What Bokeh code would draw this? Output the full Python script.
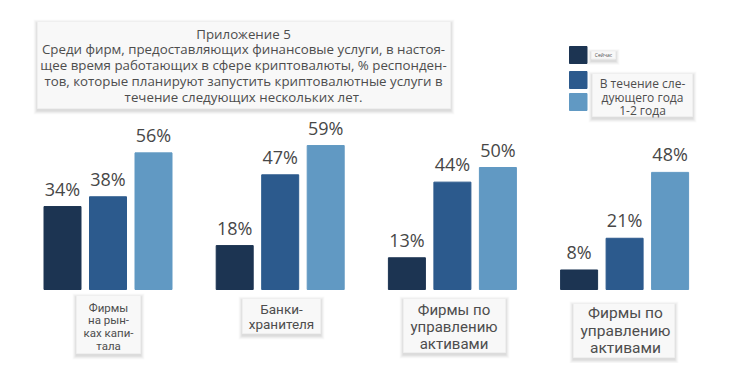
from bokeh.plotting import figure
from bokeh.models import Range1d, ColumnDataSource
from bokeh.core.properties import value
from bokeh.embed import file_html
from bokeh.resources import INLINE

# ---- data ----
categories = ["Фирмы\nна рын-\nках капи-\nтала", "Банки-\nхранителя",
              "Фирмы по\nуправлению\nактивами", "Фирмы по\nуправлению\nактивами"]
series_names = ["Сейчас", "В течение следующего года", "1-2 года"]
now_vals = [34, 18, 13, 8]
next_year_vals = [38, 47, 44, 21]
one_two_vals = [56, 59, 50, 48]
colors = ["#1c3452", "#2c5a8d", "#6199c3"]

title_lines = ["Приложение 5",
               "Среди фирм, предоставляющих финансовые услуги, в настоя-",
               "щее время работающих в сфере криптовалюты, % респонден-",
               "тов, которые планируют запустить криптовалютные услуги в",
               "течение следующих нескольких лет."]
legend_lines = ["В течение сле-", "дующего года", "1-2 года"]

# ---- geometry helpers (page pixel -> data) ----
GX0, GSTEP = 107.5, 172.2   # group 0 centre, group spacing (px)
BASE, PXPCT = 289.0, 2.44   # baseline (px), px per percent
W, H = 714, 363
OX, OY = 0, 0               # canvas origin on the page

def dx(X):
    return (X - GX0) / GSTEP

def dy(Y):
    return (BASE - Y) / PXPCT

p = figure(width=W, height=H, output_backend="svg", toolbar_location=None,
           x_range=Range1d(dx(OX), dx(OX + W)), y_range=Range1d(dy(OY + H), dy(OY)),
           x_axis_type=None, y_axis_type=None, min_border=0)
p.grid.visible = False
p.outline_line_color = None
p.background_fill_color = "white"
p.border_fill_color = "white"

FONT = value("Open Sans")
FONT2 = value("Roboto")
TXT = "#4d4d4d"


def card(x0, y0, x1, y1):
    # soft shadow
    for k, a in [(4, 0.02), (3, 0.03), (2, 0.04), (1, 0.05)]:
        p.quad(left=[dx(x0 - k)], right=[dx(x1 + k)], top=[dy(y0 - k + 2)],
               bottom=[dy(y1 + k + 2)], fill_color="#000000", fill_alpha=a,
               line_color=None)
    p.quad(left=[dx(x0)], right=[dx(x1)], top=[dy(y0)], bottom=[dy(y1)],
           fill_color="#f8f8f8", line_color="#efefef", line_width=1)


def lines_text(xc, ys, texts, size, font=FONT, color=TXT):
    p.text(x=[dx(xc)] * len(texts), y=[dy(v) for v in ys], text=texts,
           text_font=font, text_font_size=f"{size}px", text_color=color,
           text_align="center", text_baseline="middle")

# ---- bars ----
offset = 45.5 / GSTEP
bw = 37 / GSTEP
xs = list(range(len(categories)))
for j, vals in enumerate([now_vals, next_year_vals, one_two_vals]):
    xc = [x + (j - 1) * offset for x in xs]
    src = ColumnDataSource(dict(x=xc, top=vals,
                                lab=[f"{v}%" for v in vals]))
    p.vbar(x="x", top="top", bottom=0, width=bw, source=src,
           fill_color=colors[j], line_color=colors[j])
    p.text(x="x", y="top", text="lab", source=src, text_font=FONT,
           text_font_size="18px", text_color="#474747", text_align="center",
           text_baseline="bottom", y_offset=-6)

# ---- title card ----
card(37, 21, 450, 108)
lines_text(243, [33, 48.5, 64.5, 80.5, 96.5], title_lines, 13.3)

# ---- legend ----
for j, (ty, by) in enumerate([(46, 63), (71, 88), (93, 110)]):
    p.quad(left=[dx(569)], right=[dx(586.5)], top=[dy(ty)], bottom=[dy(by)],
           fill_color=colors[j], line_color=colors[j])
card(591, 50.5, 615, 58.5)
lines_text(603, [54.5], [series_names[0]], 5)
card(592, 73, 692, 116)
lines_text(642, [83, 96.5, 109.5], legend_lines, 12)

# ---- category cards ----
cat_cards = [
    ((76, 295, 140, 353), 108, [307.5, 319.5, 332.5, 345], 11.5),
    ((242, 298, 320, 333), 281, [308, 323.5], 13.5),
    ((403, 298, 505, 352), 453.5, [309.5, 326.5, 343], 15),
    ((573, 303, 674, 357), 625, [312, 330, 347.5], 15.5),
]
for (box, xc, ys, fs), cat in zip(cat_cards, categories):
    card(*box)
    lines_text(xc, ys, cat.split("\n"), fs, font=FONT2)

open("out.html", "w").write(file_html(p, INLINE))
